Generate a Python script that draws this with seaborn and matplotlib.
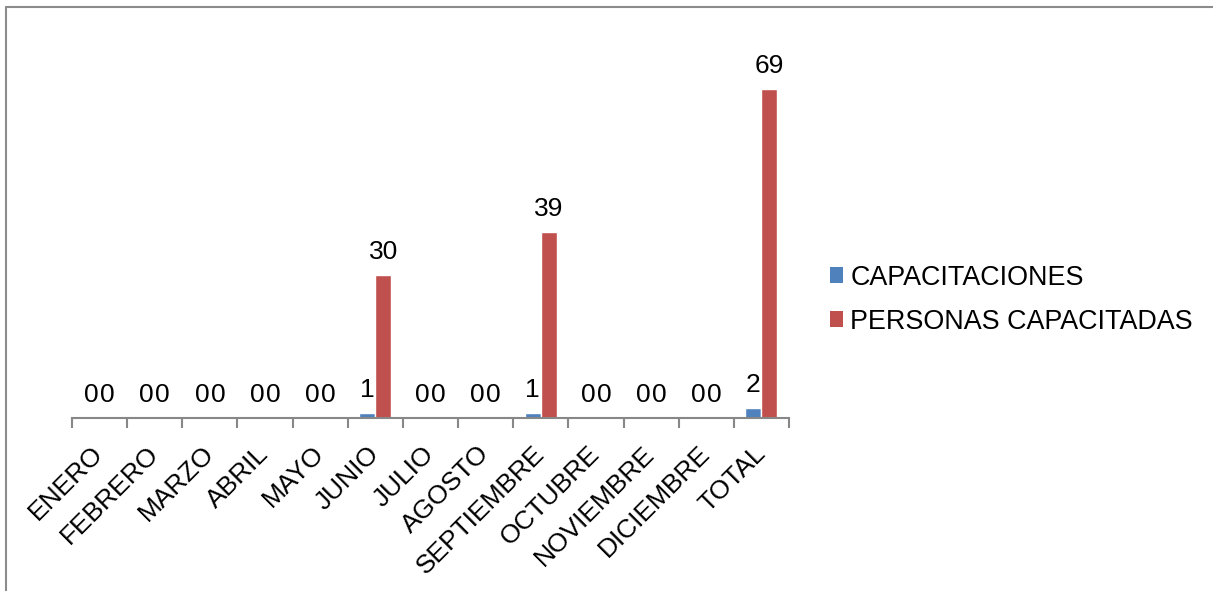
import matplotlib
matplotlib.use("Agg")
import matplotlib.pyplot as plt
from matplotlib.lines import Line2D
from matplotlib.patches import Patch
import pandas as pd
import seaborn as sns

meses = ["ENERO", "FEBRERO", "MARZO", "ABRIL", "MAYO", "JUNIO", "JULIO",
         "AGOSTO", "SEPTIEMBRE", "OCTUBRE", "NOVIEMBRE", "DICIEMBRE", "TOTAL"]
capacitaciones = [0, 0, 0, 0, 0, 1, 0, 0, 1, 0, 0, 0, 2]
personas = [0, 0, 0, 0, 0, 30, 0, 0, 39, 0, 0, 0, 69]
series = ["CAPACITACIONES", "PERSONAS CAPACITADAS"]
colores = ["#4F81BD", "#C0504D"]

df = pd.DataFrame({
    "mes": meses * 2,
    "valor": capacitaciones + personas,
    "serie": [series[0]] * len(meses) + [series[1]] * len(meses),
})

sns.set_style("white")
plt.rcParams["font.family"] = ["Liberation Sans", "DejaVu Sans"]
plt.rcParams["text.color"] = "black"
plt.rcParams["xtick.color"] = "black"

fig = plt.figure(figsize=(12.13, 5.91), dpi=100)
ax = fig.add_axes([72 / 1213, 173 / 591, (789 - 72) / 1213, (418 - 50) / 591])

sns.barplot(data=df, x="mes", y="valor", hue="serie", order=meses,
            hue_order=series, palette=colores, width=0.58, gap=0,
            saturation=1, legend=False, ax=ax)

for cont in ax.containers:
    ax.bar_label(cont, fmt="%d", padding=8, fontsize=19, color="black")

ax.set_ylim(0, 69 * (418 - 50) / 329)
ax.set_xlim(-0.5, len(meses) - 0.5)
ax.set_xlabel("")
ax.set_ylabel("")
ax.set_yticks([])

for s in ["top", "right", "left"]:
    ax.spines[s].set_visible(False)
ax.spines["bottom"].set_color("#878787")
ax.spines["bottom"].set_linewidth(1.5)

ax.set_xticks(range(len(meses)))
ax.set_xticklabels(meses, rotation=45, ha="right", va="center",
                   rotation_mode="anchor", fontsize=19)
ax.tick_params(axis="x", which="major", bottom=True, length=0, pad=23,
               labelcolor="black")
ax.set_xticks([i - 0.5 for i in range(len(meses) + 1)], minor=True)
ax.tick_params(axis="x", which="minor", bottom=True, length=7, width=1.5,
               color="#878787", direction="out")

handles = [Patch(facecolor=c, edgecolor="none") for c in colores]
fig.legend(handles, series, loc="center left", bbox_to_anchor=(830 / 1213, 0.493),
           frameon=False, fontsize=19.4, handlelength=0.5, handleheight=0.5,
           handletextpad=0.26, labelspacing=0.67, borderpad=0,
           borderaxespad=0)

# marco del gráfico (solo se ven los bordes izquierdo y superior)
fig.add_artist(Line2D([6 / 1213, 6 / 1213], [0, 1 - 7 / 591],
                      color="#8c8c8c", lw=1.5))
fig.add_artist(Line2D([6 / 1213, 1], [1 - 7 / 591, 1 - 7 / 591],
                      color="#8c8c8c", lw=1.5))

fig.savefig("out.png", dpi=100)
